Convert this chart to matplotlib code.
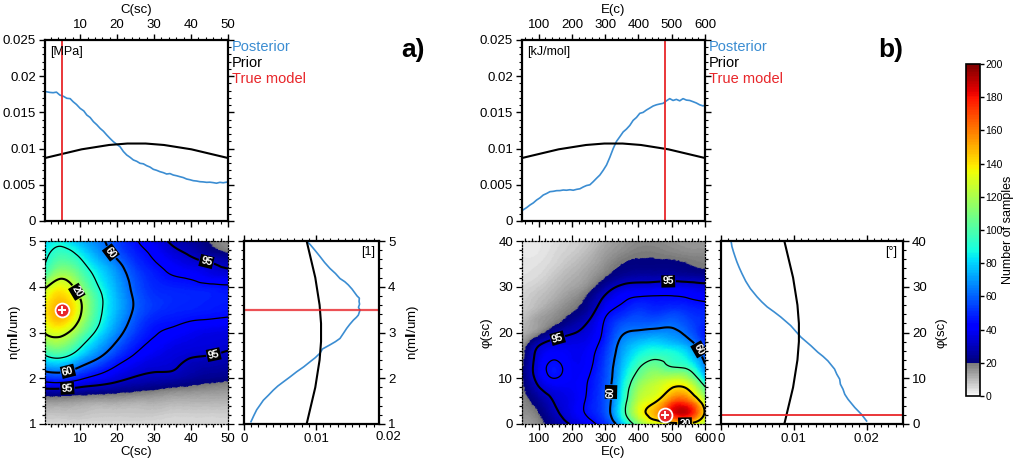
import numpy as np
import matplotlib.pyplot as plt
import matplotlib.tri as mtri
from matplotlib.colors import ListedColormap, Normalize
from matplotlib.cm import ScalarMappable
from matplotlib.ticker import MultipleLocator, FuncFormatter

plt.rcParams['font.family'] = ['Liberation Sans', 'DejaVu Sans']
plt.rcParams['font.size'] = 9.5

BLUE = "#3b8dd2"
RED = "#e8262a"

# ---------------- panel a : cohesion C and n ----------------
C_true, n_true = 5.0, 3.5

C_post_x = [0.8, 1.8, 2.7, 3.6, 4.5, 5.5, 6.4, 7.3, 8.1, 9.0, 10.0, 11.0, 11.8, 12.7,
            13.6, 14.5, 15.4, 16.3, 17.2, 18.1, 19.0, 19.9, 20.8, 21.7, 22.6, 23.5,
            24.4, 25.3, 26.2, 27.1, 28.0, 28.9, 29.8, 30.7, 31.6, 32.5, 33.4, 34.3,
            35.2, 36.1, 37.0, 37.9, 38.8, 39.7, 40.6, 41.5, 42.4, 43.3, 44.2, 45.1,
            46.0, 46.9, 47.8, 48.7, 50.0]
C_post_y = [0.01786, 0.01776, 0.01772, 0.01780, 0.01740, 0.01722, 0.01695, 0.01690,
            0.01648, 0.01610, 0.01556, 0.01520, 0.01464, 0.01430, 0.01372, 0.01330,
            0.01280, 0.01240, 0.01188, 0.01140, 0.01095, 0.01060, 0.01026, 0.00960,
            0.00912, 0.00880, 0.00843, 0.00825, 0.00797, 0.00790, 0.00764, 0.00745,
            0.00714, 0.00700, 0.00681, 0.00668, 0.00649, 0.00655, 0.00635, 0.00625,
            0.00612, 0.00600, 0.00580, 0.00570, 0.00557, 0.00552, 0.00543, 0.00540,
            0.00534, 0.00536, 0.00530, 0.00522, 0.00534, 0.00528, 0.00540]

n_post_y = [1.05, 1.18, 1.31, 1.42, 1.52, 1.63, 1.74, 1.83, 1.92, 2.03, 2.14, 2.25,
            2.36, 2.45, 2.55, 2.64, 2.73, 2.80, 2.87, 2.98, 3.09, 3.18, 3.27, 3.33,
            3.38, 3.49, 3.55, 3.62, 3.68, 3.75, 3.80, 3.86, 3.95, 4.04, 4.11, 4.18,
            4.29, 4.40, 4.53, 4.66, 4.75, 4.84, 4.92, 5.0]
n_post_x = [0.00097, 0.00135, 0.00176, 0.00225, 0.00269, 0.00340, 0.00407, 0.00470,
            0.00546, 0.00640, 0.00730, 0.00830, 0.00917, 0.00990, 0.01056, 0.01090,
            0.01194, 0.01270, 0.01333, 0.01380, 0.01426, 0.01470, 0.01519, 0.01560,
            0.01588, 0.01611, 0.01590, 0.01605, 0.01598, 0.01602, 0.01570, 0.01542,
            0.01500, 0.01449, 0.01400, 0.01333, 0.01270, 0.01194, 0.01120, 0.01056,
            0.01010, 0.00963, 0.00920, 0.00870]

C_grid = [0.5, 5, 10, 15, 20, 25, 30, 35, 40, 45, 50]
n_grid = [5.0, 4.75, 4.5, 4.25, 4.0, 3.75, 3.5, 3.25, 3.0, 2.75, 2.5, 2.25, 2.0,
          1.75, 1.5, 1.25, 1.0]
counts_a = [
    [80, 85, 75, 65, 55, 45, 38, 30, 25, 20, 17],
    [85, 95, 85, 70, 58, 48, 42, 35, 30, 24, 20],
    [90, 105, 95, 78, 65, 52, 45, 40, 36, 33, 30],
    [100, 120, 105, 85, 70, 56, 48, 44, 42, 38, 36],
    [122, 135, 115, 90, 73, 58, 50, 48, 47, 46, 45],
    [132, 145, 125, 95, 75, 60, 52, 50, 49, 48, 47],
    [138, 150, 128, 95, 75, 60, 52, 49, 48, 47, 46],
    [134, 145, 122, 92, 72, 57, 48, 46, 44, 43, 42],
    [126, 130, 110, 85, 67, 53, 45, 42, 39, 37, 36],
    [112, 115, 95, 75, 60, 48, 42, 38, 36, 35, 34],
    [90, 95, 80, 65, 52, 43, 38, 35, 33, 32, 30],
    [70, 72, 62, 52, 43, 37, 34, 33, 29, 27, 26],
    [50, 52, 46, 40, 35, 31, 29, 28, 25, 23, 22],
    [30, 30, 28, 26, 24, 22, 20, 18, 17, 16, 15],
    [15, 15, 14, 13, 13, 12, 12, 11, 11, 11, 11],
    [9, 9, 9, 8, 8, 8, 8, 7, 7, 7, 7],
    [5, 5, 5, 5, 5, 5, 5, 5, 5, 5, 5],
]

# ---------------- panel b : activation energy E and friction angle ----------------
E_true, phi_true = 480.0, 2.0

E_post_x = [52, 64, 74, 84, 94, 104, 114, 124, 134, 144, 154, 164, 174, 184, 194, 204,
            214, 224, 234, 244, 254, 264, 274, 284, 294, 304, 314, 324, 334, 344, 354,
            364, 374, 384, 394, 404, 414, 424, 434, 444, 454, 464, 474, 484, 494, 504,
            514, 524, 534, 544, 554, 564, 574, 584, 594, 600]
E_post_y = [0.00150, 0.00185, 0.00221, 0.00250, 0.00290, 0.00320, 0.00359, 0.00380,
            0.00405, 0.00410, 0.00419, 0.00420, 0.00428, 0.00425, 0.00432, 0.00425,
            0.00437, 0.00445, 0.00470, 0.00490, 0.00500, 0.00543, 0.00590, 0.00635,
            0.00700, 0.00773, 0.00880, 0.01000, 0.01100, 0.01164, 0.01230, 0.01270,
            0.01320, 0.01390, 0.01430, 0.01487, 0.01500, 0.01533, 0.01560, 0.01588,
            0.01605, 0.01616, 0.01625, 0.01660, 0.01690, 0.01665, 0.01680, 0.01660,
            0.01690, 0.01670, 0.01665, 0.01648, 0.01630, 0.01605, 0.01590, 0.01600]

phi_post_y = [39.9, 38.8, 37.65, 36.5, 35.45, 34.2, 32.9, 31.2, 29.6, 27.8, 26.7, 25.6,
              24.5, 23.4, 21.5, 20.2, 19.0, 17.1, 15.7, 14.8, 13.8, 12.0, 10.9, 9.8,
              8.7, 7.6, 6.5, 5.4, 3.6, 2.1, 0.66]
phi_post_x = [0.00139, 0.00150, 0.00171, 0.00195, 0.00218, 0.00250, 0.00287, 0.00340,
              0.00403, 0.00495, 0.00560, 0.00634, 0.00730, 0.00820, 0.00958, 0.01030,
              0.01097, 0.01236, 0.01329, 0.01400, 0.01468, 0.01560, 0.01590, 0.01630,
              0.01640, 0.01676, 0.01700, 0.01745, 0.01838, 0.01930, 0.02000]

E_grid = [50, 100, 150, 200, 250, 300, 350, 400, 450, 500, 550, 600]
phi_grid = [40, 37.5, 35, 32.5, 30, 27.5, 25, 22.5, 20, 17.5, 15, 12.5, 10, 7.5, 5, 2.5, 0]
counts_b = [
    [2, 3, 4, 6, 8, 12, 15, 17, 17, 16, 15, 15],
    [3, 3, 5, 7, 10, 14, 17, 19, 19, 18, 17, 17],
    [3, 4, 6, 9, 12, 16, 20, 21, 21, 21, 20, 19],
    [4, 5, 8, 11, 14, 19, 24, 26, 26, 26, 25, 24],
    [5, 7, 10, 13, 17, 26, 34, 36, 37, 38, 37, 35],
    [6, 9, 12, 16, 22, 34, 42, 45, 45, 45, 44, 42],
    [7, 11, 15, 19, 26, 40, 47, 52, 50, 52, 50, 48],
    [9, 14, 18, 24, 32, 45, 55, 58, 58, 60, 55, 50],
    [11, 17, 26, 31, 36, 47, 62, 66, 68, 67, 60, 46],
    [14, 30, 36, 37, 39, 50, 68, 78, 82, 78, 70, 52],
    [17, 36, 42, 39, 41, 53, 72, 88, 95, 92, 82, 58],
    [19, 38, 46, 40, 42, 55, 76, 98, 108, 100, 95, 66],
    [19, 36, 44, 40, 44, 56, 80, 108, 120, 125, 118, 80],
    [18, 30, 37, 39, 45, 57, 84, 118, 128, 142, 140, 105],
    [17, 24, 33, 38, 46, 57, 87, 125, 138, 165, 165, 125],
    [16, 20, 30, 38, 46, 57, 90, 130, 150, 180, 185, 138],
    [13, 17, 25, 33, 40, 50, 75, 110, 128, 132, 136, 120],
]

# prior (same shape over each parameter range), sampled at 21 equally spaced points
prior_shape = [0.0087, 0.0090, 0.0093, 0.0096, 0.0099, 0.0101, 0.0103, 0.0105, 0.0106,
               0.0107, 0.0107, 0.0107, 0.0106, 0.0105, 0.0103, 0.0101, 0.0099, 0.0096,
               0.0093, 0.0090, 0.0087]

# sample count bounding each credible region (%), thick lines are labelled
cred_pct = [95, 80, 60, 40, 20]
cred_counts_a = [32, 44, 62, 90, 125]
cred_counts_b = [32, 44, 64, 100, 140]
thick_pct = [95, 60, 20]

# ---------------- colour scale ----------------
greys = np.linspace(0.97, 0.48, 20)
cmap = ListedColormap([(g, g, g, 1.0) for g in greys] +
                      list(plt.get_cmap('jet')(np.linspace(0, 1, 180))))
norm = Normalize(0, 200)

W, H = 1016, 459
fig = plt.figure(figsize=(W / 100, H / 100), dpi=100)


def box(l, t, r, b):
    return [l / W, 1 - b / H, (r - l) / W, (b - t) / H]


def px(x, y):
    return x / W, 1 - y / H


def style_marg(ax):
    for s in ax.spines.values():
        s.set_linewidth(1.6)
    ax.tick_params(which='both', direction='out', top=True, right=True,
                   bottom=True, left=True, width=1)
    ax.tick_params(which='major', length=4, pad=2.5)
    ax.tick_params(which='minor', length=2, width=0.8)


def style_map(ax):
    for s in ax.spines.values():
        s.set_linewidth(0.9)
        s.set_linestyle((0, (1, 1.5)))
    ax.tick_params(which='both', direction='out', top=True, right=True,
                   bottom=True, left=True, width=0.9)
    ax.tick_params(which='major', length=4, pad=2.5)
    ax.tick_params(which='minor', length=2)


def density(ax, xg, yg, rows, cred_counts, label_pos):
    z = np.array(rows, dtype=float)[::-1]
    yg = np.array(yg, dtype=float)[::-1]
    xg = np.array(xg, dtype=float)
    ny, nx = z.shape
    ix, iy = np.meshgrid(np.arange(nx, dtype=float), np.arange(ny, dtype=float))
    tris = []
    for j in range(ny - 1):
        for i in range(nx - 1):
            k = j * nx + i
            tris.append([k, k + 1, k + nx + 1])
            tris.append([k, k + nx + 1, k + nx])
    tri = mtri.Triangulation(ix.ravel(), iy.ravel(), tris)
    tri_f, z_f = mtri.UniformTriRefiner(tri).refine_field(z.ravel(), subdiv=4)
    z_f = np.clip(z_f, 0, None)
    tri_d = mtri.Triangulation(np.interp(tri_f.x, np.arange(nx), xg),
                               np.interp(tri_f.y, np.arange(ny), yg),
                               tri_f.triangles)
    ax.tripcolor(tri_d, z_f, shading='gouraud', cmap=cmap, norm=norm, rasterized=True)

    lev = dict(zip(cred_pct, cred_counts))
    thin = sorted(lev[p] for p in cred_pct if p not in thick_pct)
    thick = sorted(lev[p] for p in thick_pct)
    ax.tricontour(tri_d, z_f, levels=thin, colors='k', linewidths=0.9,
                  linestyles='solid')
    cs = ax.tricontour(tri_d, z_f, levels=thick, colors='k', linewidths=1.5,
                       linestyles='solid')
    fmt = {lev[p]: str(p) for p in thick_pct}
    txts = ax.clabel(cs, fmt=fmt, inline=True, fontsize=7.5, manual=label_pos,
                     inline_spacing=2)
    for t in txts:
        t.set_color('white')
        t.set_fontweight('bold')
        t.set_zorder(8)
        t.set_bbox(dict(facecolor='black', edgecolor='none', pad=0.8))
    ax.set_xlim(xg[0], xg[-1])
    ax.set_ylim(yg[0], yg[-1])


def true_marker(ax, x, y):
    ax.plot([x], [y], 'o', ms=10, mfc=RED, mec='white', mew=1.3, zorder=6)
    ax.plot([x], [y], '+', ms=6, mec='white', mew=1.4, zorder=7)


gfmt = FuncFormatter(lambda v, p: f"{v:g}")

# ======== panel a ========
ax_ta = fig.add_axes(box(45, 40, 228, 221))
ax_a = fig.add_axes(box(45, 241, 228, 424))
ax_ra = fig.add_axes(box(244, 241, 379, 424))

xp = np.linspace(0.5, 50, len(prior_shape))
ax_ta.plot(C_post_x, C_post_y, color=BLUE, lw=1.2)
ax_ta.plot(xp, prior_shape, color='k', lw=1.5)
ax_ta.axvline(C_true, color=RED, lw=1.3)
ax_ta.set_xlim(0.5, 50)
ax_ta.set_ylim(0, 0.025)
ax_ta.xaxis.set_major_locator(MultipleLocator(10))
ax_ta.xaxis.set_minor_locator(MultipleLocator(2))
ax_ta.yaxis.set_major_locator(MultipleLocator(0.005))
ax_ta.yaxis.set_minor_locator(MultipleLocator(0.001))
ax_ta.yaxis.set_major_formatter(gfmt)
style_marg(ax_ta)
ax_ta.tick_params(labeltop=True, labelbottom=False)
ax_ta.xaxis.set_label_position('top')
ax_ta.set_xlabel("C(sc)", labelpad=4)
ax_ta.text(0.03, 0.965, "[MPa]", transform=ax_ta.transAxes, va='top', ha='left', fontsize=9)

density(ax_a, C_grid, n_grid, counts_a, cred_counts_a,
        [(9.3, 3.9), (17.2, 4.68), (6.5, 2.22), (43.9, 4.46), (45.7, 2.68), (6.5, 1.83)])
true_marker(ax_a, C_true, n_true)
ax_a.xaxis.set_major_locator(MultipleLocator(10))
ax_a.xaxis.set_minor_locator(MultipleLocator(2))
ax_a.yaxis.set_major_locator(MultipleLocator(1))
ax_a.yaxis.set_minor_locator(MultipleLocator(0.2))
style_map(ax_a)
ax_a.set_xlabel("C(sc)", labelpad=1)
ax_a.set_ylabel(r"n(m$\mathbf{l}$/um)", labelpad=4)

yp = np.linspace(1, 5, len(prior_shape))
ax_ra.plot(n_post_x, n_post_y, color=BLUE, lw=1.2)
ax_ra.plot(prior_shape, yp, color='k', lw=1.5)
ax_ra.axhline(n_true, color=RED, lw=1.6, alpha=0.8)
ax_ra.set_xlim(0, 0.01875)
ax_ra.set_ylim(1, 5)
ax_ra.xaxis.set_major_locator(MultipleLocator(0.01))
ax_ra.xaxis.set_minor_locator(MultipleLocator(0.001))
ax_ra.xaxis.set_major_formatter(gfmt)
ax_ra.yaxis.set_major_locator(MultipleLocator(1))
ax_ra.yaxis.set_minor_locator(MultipleLocator(0.2))
style_marg(ax_ra)
ax_ra.tick_params(labelleft=False, labelright=True)
ax_ra.yaxis.set_label_position('right')
ax_ra.set_ylabel(r"n(m$\mathbf{l}$/um)", labelpad=6)
ax_ra.text(0.02, -0.038, "0.02", transform=ax_ra.get_xaxis_transform(),
           ha='center', va='top', clip_on=False)
ax_ra.text(0.97, 0.975, "[1]", transform=ax_ra.transAxes, va='top', ha='right', fontsize=9)

# ======== panel b ========
ax_tb = fig.add_axes(box(522, 40, 705, 221))
ax_b = fig.add_axes(box(522, 241, 705, 424))
ax_rb = fig.add_axes(box(721, 241, 903, 424))

xp = np.linspace(50, 600, len(prior_shape))
ax_tb.plot(E_post_x, E_post_y, color=BLUE, lw=1.2)
ax_tb.plot(xp, prior_shape, color='k', lw=1.5)
ax_tb.axvline(E_true, color=RED, lw=1.3)
ax_tb.set_xlim(50, 600)
ax_tb.set_ylim(0, 0.025)
ax_tb.xaxis.set_major_locator(MultipleLocator(100))
ax_tb.xaxis.set_minor_locator(MultipleLocator(20))
ax_tb.yaxis.set_major_locator(MultipleLocator(0.005))
ax_tb.yaxis.set_minor_locator(MultipleLocator(0.001))
ax_tb.yaxis.set_major_formatter(gfmt)
style_marg(ax_tb)
ax_tb.tick_params(labeltop=True, labelbottom=False)
ax_tb.xaxis.set_label_position('top')
ax_tb.set_xlabel("E(c)", labelpad=4)
ax_tb.text(0.03, 0.965, "[kJ/mol]", transform=ax_tb.transAxes, va='top', ha='left', fontsize=9)

density(ax_b, E_grid, phi_grid, counts_b, cred_counts_b,
        [(489, 31.8), (159, 18.3), (584, 16.4), (319, 7.0), (540, 1.0)])
true_marker(ax_b, E_true, phi_true)
ax_b.xaxis.set_major_locator(MultipleLocator(100))
ax_b.xaxis.set_minor_locator(MultipleLocator(20))
ax_b.yaxis.set_major_locator(MultipleLocator(10))
ax_b.yaxis.set_minor_locator(MultipleLocator(2))
style_map(ax_b)
ax_b.set_xlabel("E(c)", labelpad=1)
ax_b.set_ylabel("φ(sc)", labelpad=4)

yp = np.linspace(0, 40, len(prior_shape))
ax_rb.plot(phi_post_x, phi_post_y, color=BLUE, lw=1.2)
ax_rb.plot(prior_shape, yp, color='k', lw=1.5)
ax_rb.axhline(phi_true, color=RED, lw=1.3)
ax_rb.set_xlim(0, 0.025)
ax_rb.set_ylim(0, 40)
ax_rb.xaxis.set_major_locator(MultipleLocator(0.01))
ax_rb.xaxis.set_minor_locator(MultipleLocator(0.001))
ax_rb.xaxis.set_major_formatter(gfmt)
ax_rb.yaxis.set_major_locator(MultipleLocator(10))
ax_rb.yaxis.set_minor_locator(MultipleLocator(2))
style_marg(ax_rb)
ax_rb.tick_params(labelleft=False, labelright=True)
ax_rb.yaxis.set_label_position('right')
ax_rb.set_ylabel("φ(sc)", labelpad=6)
ax_rb.text(0.97, 0.975, "[°]", transform=ax_rb.transAxes, va='top', ha='right', fontsize=9)

# ======== legends and panel letters ========
for x0, letter, lx in [(232, "a)", 413), (709, "b)", 891)]:
    fig.text(*px(x0, 47), "Posterior", color=BLUE, fontsize=10.5, va='center')
    fig.text(*px(x0, 63), "Prior", color='k', fontsize=10.5, va='center')
    fig.text(*px(x0, 79), "True model", color=RED, fontsize=10.5, va='center')
    fig.text(*px(lx, 50), letter, fontsize=19, fontweight='bold', ha='center', va='center',
             family=['Liberation Sans Narrow', 'Liberation Sans'])

# ======== colour bar ========
cax = fig.add_axes(box(966, 64, 980, 396))
cb = fig.colorbar(ScalarMappable(norm=norm, cmap=cmap), cax=cax, ticks=range(0, 201, 20))
cb.outline.set_linewidth(1.2)
cax.tick_params(direction='out', length=3, width=1, labelsize=7.5, pad=1)
fig.text(*px(1008, 230), "Number of samples", rotation=90, ha='center', va='center',
         fontsize=9)

fig.savefig("out.png", dpi=100)
